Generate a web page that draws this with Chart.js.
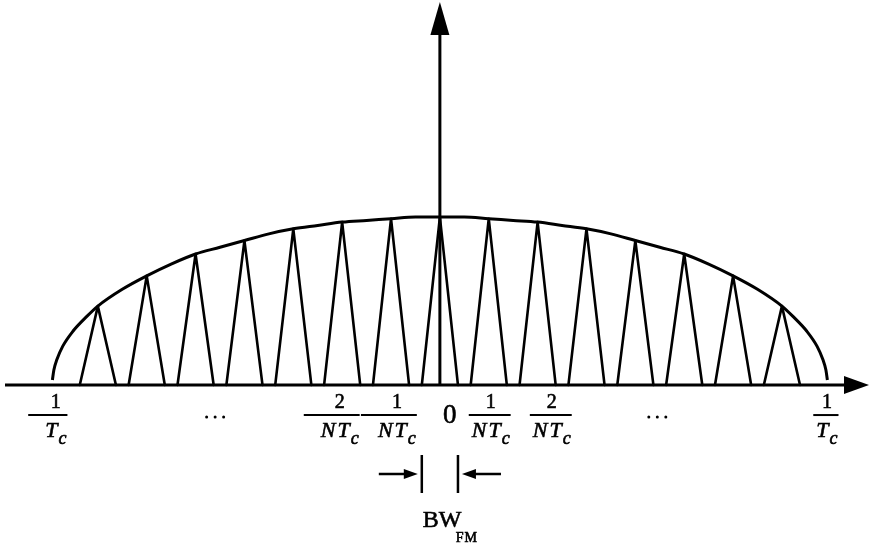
<!DOCTYPE html>
<html>
<head>
<meta charset="utf-8">
<script src="https://cdn.jsdelivr.net/npm/chart.js@4/dist/chart.umd.min.js"></script>
<style>
  html, body { margin: 0; padding: 0; background: #fff; }
  canvas { display: block; }
</style>
</head>
<body>
<canvas id="spectrum" width="870" height="546"></canvas>
<script>
// envelope: x in units of 1/(N Tc), height relative to the centre peak
const envelopeX = [-7.93, -7.9, -7.84, -7.72, -7.51, -7.22, -7, -6.5, -6, -5.5, -5, -4.5, -4, -3.5, -3, -2.5, -2, -1.5, -1, -0.5, 0,
                   0.5, 1, 1.5, 2, 2.5, 3, 3.5, 4, 4.5, 5, 5.5, 6, 6.5, 7, 7.22, 7.51, 7.72, 7.84, 7.9, 7.93];
const envelopeY = [0.03, 0.09, 0.15, 0.23, 0.32, 0.41, 0.47, 0.57, 0.65, 0.72, 0.78, 0.82, 0.86, 0.9, 0.93, 0.95, 0.97, 0.98, 0.99, 1, 1,
                   1, 0.99, 0.98, 0.97, 0.95, 0.93, 0.9, 0.86, 0.82, 0.78, 0.72, 0.65, 0.57, 0.47, 0.41, 0.32, 0.23, 0.15, 0.09, 0.03];

// spectral lines (one narrow lobe per multiple of 1/(N Tc))
const lineCenters = [-7, -6, -5, -4, -3, -2, -1, 0, 1, 2, 3, 4, 5, 6, 7];
const lineHeights = [0.47, 0.65, 0.78, 0.86, 0.93, 0.97, 0.99, 1, 0.99, 0.97, 0.93, 0.86, 0.78, 0.65, 0.47];
const lobeHalfWidth = 0.37;

// axis labels: where each one sits, numerator, denominator, minus sign
const labelAt = [-7.86, -2.05, -0.88, 1.04, 2.29, 7.92];
const labelNum = ['1', '2', '1', '1', '2', '1'];
const labelDen = ['T', 'NT', 'NT', 'NT', 'NT', 'T'];
const labelNeg = [true, true, true, false, false, false];
const dotsAt = [-4.6, 4.45];

const envelope = envelopeX.map((x, i) => ({ x: x, y: envelopeY[i] }));
const lobes = [];
lineCenters.forEach((c, i) => {
  lobes.push({ x: c - lobeHalfWidth, y: 0 });
  lobes.push({ x: c, y: lineHeights[i] });
  lobes.push({ x: c + lobeHalfWidth, y: 0 });
  lobes.push({ x: c + lobeHalfWidth, y: null });
});

function arrowHead(ctx, tipX, tipY, dx, dy, len, half) {
  // dx,dy: unit direction the arrow points to
  const bx = tipX - dx * len, by = tipY - dy * len;
  ctx.beginPath();
  ctx.moveTo(tipX, tipY);
  ctx.lineTo(bx - dy * half, by + dx * half);
  ctx.lineTo(bx + dy * half, by - dx * half);
  ctx.closePath();
  ctx.fill();
}

// printed text looks heavy in the scan, so fill + thin stroke
function text(ctx, s, x, y) {
  ctx.fillText(s, x, y);
  ctx.lineWidth = 0.6;
  ctx.strokeText(s, x, y);
}

const drawing = {
  id: 'drawing',
  afterDatasetsDraw(chart) {
    const { ctx, scales: { x, y }, chartArea } = chart;
    const x0 = x.getPixelForValue(0), y0 = y.getPixelForValue(0);
    ctx.save();
    ctx.strokeStyle = '#000';
    ctx.fillStyle = '#000';

    // frequency axis
    ctx.lineWidth = 3;
    ctx.beginPath();
    ctx.moveTo(chartArea.left, y0);
    ctx.lineTo(chart.width - 20, y0);
    ctx.stroke();
    arrowHead(ctx, chart.width - 1, y0, 1, 0, 25, 9);

    // centre line / vertical axis
    ctx.beginPath();
    ctx.moveTo(x0, y0);
    ctx.lineTo(x0, 30);
    ctx.stroke();
    arrowHead(ctx, x0, 2, 0, -1, 33, 9.5);

    // fraction labels
    const numY = y0 + 23, barY = y0 + 30, denY = y0 + 52;
    ctx.textBaseline = 'alphabetic';
    labelAt.forEach((v, i) => {
      const cx = x.getPixelForValue(v);
      ctx.font = '20px "Liberation Serif"';
      ctx.textAlign = 'center';
      text(ctx, labelNum[i], cx, numY);
      ctx.font = 'italic 22px "Liberation Serif"';
      const wMain = ctx.measureText(labelDen[i]).width + 2 * (labelDen[i].length - 1);
      ctx.font = 'italic 18px "Liberation Serif"';
      const wSub = ctx.measureText('c').width;
      const w = wMain + wSub + 1;
      const left = cx - w / 2;
      // denominator with slight letter spacing
      ctx.textAlign = 'left';
      ctx.font = 'italic 22px "Liberation Serif"';
      let px = left;
      for (const ch of labelDen[i]) {
        text(ctx, ch, px, denY);
        px += ctx.measureText(ch).width + 2;
      }
      ctx.font = 'italic 18px "Liberation Serif"';
      text(ctx, 'c', px - 1, denY + 7);
      // fraction bar, extended to the left as a minus sign
      ctx.lineWidth = 2;
      ctx.beginPath();
      ctx.moveTo(left - 3 - (labelNeg[i] ? 14 : 0), barY);
      ctx.lineTo(left + w + 1, barY);
      ctx.stroke();
    });

    // the zero
    ctx.font = '27px "Liberation Serif"';
    ctx.textAlign = 'left';
    text(ctx, '0', x0 + 3, y0 + 38);

    // ellipsis dots
    dotsAt.forEach(v => {
      const cx = x.getPixelForValue(v);
      for (let k = -1; k <= 1; k++) {
        ctx.beginPath();
        ctx.arc(cx + k * 8.5, y0 + 32, 1.5, 0, Math.PI * 2);
        ctx.fill();
      }
    });

    // bandwidth marker of one lobe
    const xl = x.getPixelForValue(-lobeHalfWidth), xr = x.getPixelForValue(lobeHalfWidth);
    ctx.lineWidth = 2.5;
    ctx.beginPath();
    ctx.moveTo(xl, y0 + 70); ctx.lineTo(xl, y0 + 108);
    ctx.moveTo(xr, y0 + 70); ctx.lineTo(xr, y0 + 108);
    ctx.stroke();
    const ay = y0 + 89;
    ctx.beginPath();
    ctx.moveTo(xl - 43, ay); ctx.lineTo(xl - 12, ay);
    ctx.moveTo(xr + 43, ay); ctx.lineTo(xr + 12, ay);
    ctx.stroke();
    arrowHead(ctx, xl - 4, ay, 1, 0, 14, 5);
    arrowHead(ctx, xr + 4, ay, -1, 0, 14, 5);

    ctx.font = '24px "Liberation Serif"';
    ctx.textAlign = 'left';
    text(ctx, 'BW', xl + 1, y0 + 142);
    ctx.font = '14px "Liberation Serif"';
    ctx.letterSpacing = '1px';
    text(ctx, 'FM', xl + 34, y0 + 157);
    ctx.letterSpacing = '0px';

    ctx.restore();
  }
};

new Chart(document.getElementById('spectrum'), {
  type: 'scatter',
  data: {
    datasets: [
      {
        label: 'envelope',
        data: envelope,
        showLine: true,
        borderColor: '#000',
        borderWidth: 3,
        pointRadius: 0,
        cubicInterpolationMode: 'monotone'
      },
      {
        label: 'lines',
        data: lobes,
        showLine: true,
        spanGaps: false,
        borderColor: '#000',
        borderWidth: 2.6,
        borderJoinStyle: 'round',
        borderCapStyle: 'round',
        pointRadius: 0
      }
    ]
  },
  options: {
    responsive: false,
    animation: false,
    layout: { padding: { left: 5, right: 5, top: 3, bottom: 0 } },
    scales: {
      x: { type: 'linear', min: -8.9, max: 8.7, display: false },
      y: { type: 'linear', min: -0.958, max: 2.274, display: false }
    },
    plugins: {
      legend: { display: false },
      tooltip: { enabled: false }
    }
  },
  plugins: [drawing]
});
</script>
</body>
</html>
